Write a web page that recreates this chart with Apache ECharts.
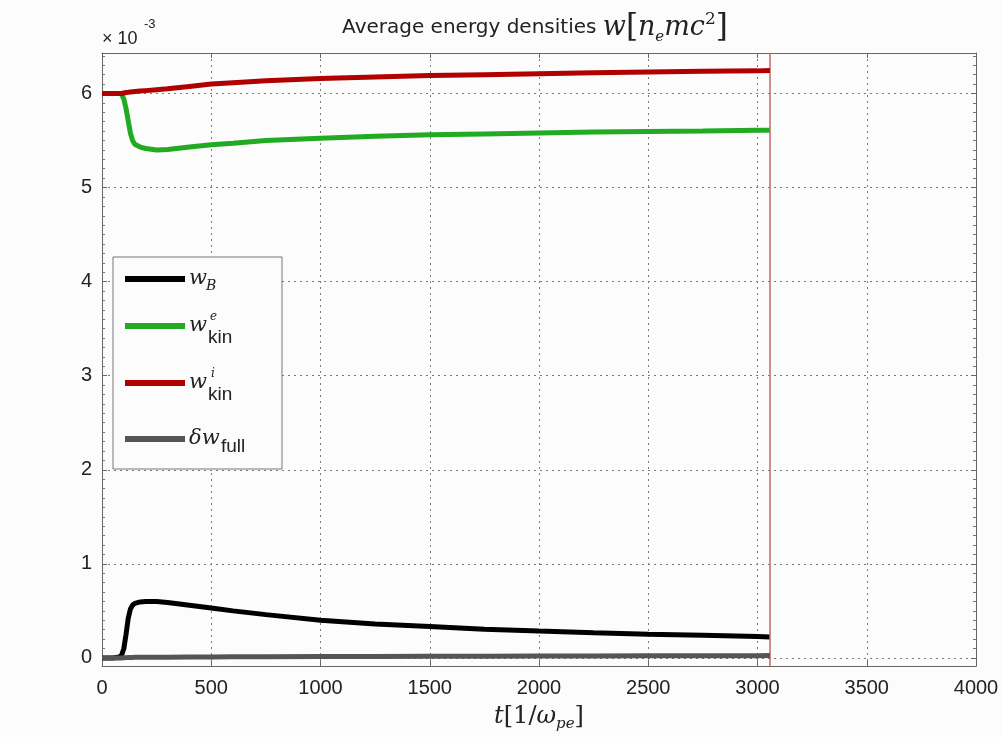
<!DOCTYPE html>
<html>
<head>
<meta charset="utf-8">
<script src="https://cdn.jsdelivr.net/npm/echarts@6/dist/echarts.min.js"></script>
<style>
html,body{margin:0;padding:0;background:#fcfcfc;}
#chart{width:1003px;height:737px;}
</style>
</head>
<body>
<div id="chart"></div>
<script>
// time axis t [1/omega_pe]
const tValues = [0, 50, 80, 90, 100, 110, 120, 130, 140, 150, 175, 200, 250, 300, 400, 500, 600, 750, 1000, 1250, 1500, 1750, 2000, 2250, 2500, 2750, 3000, 3057];
// energy densities in units of 1e-3
const wB     = [0, 0, 0.01, 0.03, 0.10, 0.25, 0.42, 0.52, 0.56, 0.58, 0.595, 0.60, 0.60, 0.59, 0.56, 0.53, 0.50, 0.46, 0.40, 0.36, 0.335, 0.305, 0.285, 0.268, 0.252, 0.24, 0.227, 0.222];
const wKinE  = [6.0, 6.0, 6.0, 5.99, 5.94, 5.84, 5.71, 5.58, 5.50, 5.46, 5.43, 5.415, 5.40, 5.405, 5.43, 5.455, 5.47, 5.50, 5.525, 5.545, 5.56, 5.57, 5.58, 5.59, 5.595, 5.60, 5.61, 5.61];
const wKinI  = [6.0, 6.0, 6.0, 6.0, 6.005, 6.01, 6.012, 6.015, 6.018, 6.02, 6.025, 6.03, 6.04, 6.05, 6.075, 6.10, 6.115, 6.135, 6.16, 6.175, 6.19, 6.20, 6.21, 6.22, 6.228, 6.235, 6.24, 6.245];
const dwFull = [0, 0, 0, 0, 0.002, 0.003, 0.004, 0.005, 0.005, 0.006, 0.006, 0.007, 0.008, 0.008, 0.009, 0.010, 0.011, 0.012, 0.014, 0.015, 0.017, 0.018, 0.019, 0.020, 0.022, 0.023, 0.024, 0.025];
const endTime = 3057;
const xTicks = [0, 500, 1000, 1500, 2000, 2500, 3000, 3500, 4000];
const yTicks = [0, 1, 2, 3, 4, 5, 6];

const seriesNames = ['wB', 'wkinE', 'wkinI', 'dwFull'];
const seriesData = [wB, wKinE, wKinI, dwFull];
const seriesColors = ['#000000', '#22aa22', '#b00000', '#555555'];

const chart = echarts.init(document.getElementById('chart'), null, {renderer: 'canvas'});
const sans = 'Liberation Sans';
const serif = 'DejaVu Serif';
const textColor = '#222';

function pairs(arr) { return tValues.map((t, i) => [t, arr[i]]); }

const series = seriesNames.map((n, i) => ({
  name: n, type: 'line', data: pairs(seriesData[i]), showSymbol: false, symbol: 'none',
  lineStyle: {color: seriesColors[i], width: 5}, itemStyle: {color: seriesColors[i]},
  z: 3 + i, silent: true, animation: false
}));
series[2].markLine = {
  silent: true, symbol: 'none', label: {show: false},
  lineStyle: {color: '#c06a6a', width: 1.5, type: 'solid'},
  data: [{xAxis: endTime}]
};

const gridLine = {show: true, showMinLine: false, showMaxLine: false, lineStyle: {color: '#7a7a7a', type: [2, 4], width: 1}};
const axisLineStyle = {show: true, onZero: false, lineStyle: {color: '#666', width: 1}};

const option = {
  backgroundColor: '#fcfcfc',
  animation: false,
  title: {
    text: '{a|Average energy densities }{m|w}{b|[}{m|n}{s|e}{m|mc}{p|2}{b|]}',
    left: 530, top: 6, textAlign: 'center',
    textStyle: {
      fontWeight: 'normal',
      rich: {
        a: {fontFamily: 'DejaVu Sans', fontWeight: 'normal', fontSize: 20, color: textColor, lineHeight: 34, verticalAlign: 'middle'},
        b: {fontFamily: serif, fontWeight: 'normal', fontSize: 31, color: textColor, lineHeight: 34, verticalAlign: 'middle'},
        m: {fontFamily: serif, fontWeight: 'normal', fontStyle: 'italic', fontSize: 27, color: textColor, lineHeight: 34, verticalAlign: 'middle'},
        s: {fontFamily: serif, fontWeight: 'normal', fontStyle: 'italic', fontSize: 15, color: textColor, lineHeight: 32, verticalAlign: 'bottom'},
        p: {fontFamily: serif, fontWeight: 'normal', fontSize: 17, color: textColor, lineHeight: 34, verticalAlign: 'top'}
      }
    }
  },
  grid: {left: 102, right: 27, top: 53, bottom: 69, containLabel: false},
  xAxis: [{
    type: 'value', min: xTicks[0], max: xTicks[xTicks.length - 1], interval: 500,
    position: 'bottom',
    axisLine: axisLineStyle,
    axisTick: {show: true, inside: true, length: 5, lineStyle: {color: '#666'}},
    axisLabel: {fontFamily: sans, fontSize: 20, color: textColor, margin: 12, formatter: v => String(v)},
    splitLine: gridLine,
    name: '{m|t}{a|[1/}{m|ω}{s|pe}{a|]}',
    nameLocation: 'middle', nameGap: 36,
    nameTextStyle: {
      rich: {
        a: {fontFamily: serif, fontSize: 24, color: textColor, lineHeight: 30, verticalAlign: 'middle'},
        m: {fontFamily: serif, fontStyle: 'italic', fontSize: 24, color: textColor, lineHeight: 30, verticalAlign: 'middle'},
        s: {fontFamily: serif, fontStyle: 'italic', fontSize: 15, color: textColor, lineHeight: 30, verticalAlign: 'bottom'}
      }
    }
  }, {
    type: 'value', min: xTicks[0], max: xTicks[xTicks.length - 1], interval: 500,
    position: 'top',
    axisLine: axisLineStyle,
    axisTick: {show: true, inside: true, length: 5, lineStyle: {color: '#666'}},
    axisLabel: {show: false}, splitLine: {show: false}
  }],
  yAxis: [{
    type: 'value', min: -0.086, max: 6.43, splitNumber: 6,
    position: 'left',
    axisLine: axisLineStyle,
    axisTick: {show: true, inside: true, length: 5, lineStyle: {color: '#666'}},
    minorTick: {show: true, splitNumber: 10, length: 3, lineStyle: {color: '#777'}},
    axisLabel: {fontFamily: sans, fontSize: 20, color: textColor, margin: 10, showMinLabel: false, showMaxLabel: false,
      formatter: v => (yTicks.indexOf(Math.round(v)) >= 0 && Math.abs(v - Math.round(v)) < 1e-6) ? String(Math.round(v)) : ''},
    splitLine: gridLine
  }, {
    type: 'value', min: -0.086, max: 6.43, splitNumber: 6,
    position: 'right',
    axisLine: axisLineStyle,
    axisTick: {show: true, inside: true, length: 5, lineStyle: {color: '#666'}},
    minorTick: {show: true, splitNumber: 10, length: 3, lineStyle: {color: '#777'}},
    axisLabel: {show: false}, splitLine: {show: false}
  }],
  series: series,
  graphic: [
    // exponent label
    {type: 'text', left: 102, top: 30, style: {text: '× 10', font: '18px "Liberation Sans"', fill: textColor}},
    {type: 'text', left: 144, top: 18, style: {text: '-3', font: '13px "Liberation Sans"', fill: textColor}},
    // legend box
    {type: 'rect', shape: {x: 113, y: 257, width: 169, height: 212}, style: {fill: '#fcfcfc', stroke: '#777', lineWidth: 1}, z: 100},
    {type: 'line', shape: {x1: 125, y1: 279, x2: 185, y2: 279}, style: {stroke: seriesColors[0], lineWidth: 6}, z: 101},
    {type: 'line', shape: {x1: 125, y1: 326, x2: 185, y2: 326}, style: {stroke: seriesColors[1], lineWidth: 6}, z: 101},
    {type: 'line', shape: {x1: 125, y1: 383, x2: 185, y2: 383}, style: {stroke: seriesColors[2], lineWidth: 6}, z: 101},
    {type: 'line', shape: {x1: 125, y1: 439, x2: 185, y2: 439}, style: {stroke: seriesColors[3], lineWidth: 6}, z: 101},
    // w_B
    {type: 'text', x: 189, y: 279, z: 101, style: {text: 'w', font: 'italic 21px "DejaVu Serif"', fill: textColor, verticalAlign: 'middle'}},
    {type: 'text', x: 206, y: 286, z: 101, style: {text: 'B', font: 'italic 14px "DejaVu Serif"', fill: textColor, verticalAlign: 'middle'}},
    // w_kin^e
    {type: 'text', x: 189, y: 326, z: 101, style: {text: 'w', font: 'italic 21px "DejaVu Serif"', fill: textColor, verticalAlign: 'middle'}},
    {type: 'text', x: 210, y: 317, z: 101, style: {text: 'e', font: 'italic 12px "DejaVu Serif"', fill: textColor, verticalAlign: 'middle'}},
    {type: 'text', x: 208, y: 338, z: 101, style: {text: 'kin', font: '19px "Liberation Sans"', fill: textColor, verticalAlign: 'middle'}},
    // w_kin^i
    {type: 'text', x: 189, y: 383, z: 101, style: {text: 'w', font: 'italic 21px "DejaVu Serif"', fill: textColor, verticalAlign: 'middle'}},
    {type: 'text', x: 211, y: 374, z: 101, style: {text: 'i', font: 'italic 12px "DejaVu Serif"', fill: textColor, verticalAlign: 'middle'}},
    {type: 'text', x: 208, y: 395, z: 101, style: {text: 'kin', font: '19px "Liberation Sans"', fill: textColor, verticalAlign: 'middle'}},
    // delta w_full
    {type: 'text', x: 189, y: 439, z: 101, style: {text: 'δw', font: 'italic 21px "DejaVu Serif"', fill: textColor, verticalAlign: 'middle'}},
    {type: 'text', x: 221, y: 447, z: 101, style: {text: 'full', font: '19px "Liberation Sans"', fill: textColor, verticalAlign: 'middle'}}
  ]
};
chart.setOption(option);
</script>
</body>
</html>
